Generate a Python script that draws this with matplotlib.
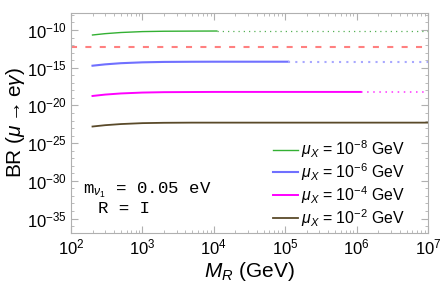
import numpy as np
import matplotlib
matplotlib.use("Agg")
import matplotlib.pyplot as plt
from matplotlib.ticker import LogLocator, NullFormatter

plt.rcParams['font.family'] = ['Liberation Sans', 'DejaVu Sans']
plt.rcParams['mathtext.fontset'] = 'custom'
plt.rcParams['mathtext.rm'] = 'Liberation Sans'
plt.rcParams['mathtext.it'] = 'Liberation Sans:italic'

# M_R in GeV along the solid part of each curve
M_green = [200, 300, 500, 1000, 2000, 5000, 11000]
M_blue = [200, 300, 500, 1000, 2000, 5000, 10000, 110000]
M_mag = [200, 300, 500, 1000, 2000, 5000, 10000, 1150000]
M_brown = [200, 300, 500, 1000, 2000, 5000, 10000, 1e7]

br_green = [2.2e-11, 3.3e-11, 4.7e-11, 6.2e-11, 6.9e-11, 7.2e-11, 7.4e-11]
br_blue = [1.86e-15, 2.8e-15, 4.0e-15, 5.2e-15, 5.9e-15, 6.2e-15, 6.3e-15, 6.3e-15]
br_mag = [1.8e-19, 2.75e-19, 3.9e-19, 5.1e-19, 5.75e-19, 6.0e-19, 6.2e-19, 6.2e-19]
br_brown = [1.6e-23, 2.4e-23, 3.4e-23, 4.5e-23, 5.0e-23, 5.25e-23, 5.25e-23, 5.25e-23]

M_end = 1e7
meg_bound = 5.7e-13

labels = [r'$\mu_X$ = 10$^{-8}$ GeV', r'$\mu_X$ = 10$^{-6}$ GeV',
          r'$\mu_X$ = 10$^{-4}$ GeV', r'$\mu_X$ = 10$^{-2}$ GeV']

fig = plt.figure(figsize=(4.41, 2.84), dpi=100)
ax = fig.add_axes([0.161, 0.18, 0.81, 0.774])

ax.plot([1e2, M_end], [meg_bound, meg_bound], color='#ff8080', lw=1.5,
        dashes=(2.9, 4))

ax.plot(M_green, br_green, color='#33b033', lw=1.0, label=labels[0])
ax.plot([M_green[-1], M_end], [br_green[-1]] * 2, color='#55b055', lw=0.9,
        dashes=(1, 3.2))
ax.plot(M_blue, br_blue, color='#7070ff', lw=1.5, label=labels[1])
ax.plot([M_blue[-1], M_end], [br_blue[-1]] * 2, color='#a8a8ff', lw=1.5,
        dashes=(1, 2.5))
ax.plot(M_mag, br_mag, color='#ff00ff', lw=1.4, label=labels[2])
ax.plot([M_mag[-1], M_end], [br_mag[-1]] * 2, color='#ff30ff', lw=1.1,
        dashes=(1, 3.0))
ax.plot(M_brown, br_brown, color='#5a4a2a', lw=1.3, label=labels[3])

ax.set_xscale('log')
ax.set_yscale('log')
ax.set_xlim(1e2, 1e7)
ax.set_ylim(10 ** -36.9, 10 ** -7.75)

ax.set_yticks([10.0 ** e for e in range(-35, -9, 5)])
ax.set_yticks([10.0 ** e for e in range(-36, -7)], minor=True)
ax.yaxis.set_minor_formatter(NullFormatter())
ax.xaxis.set_minor_locator(LogLocator(base=10, subs=np.arange(2, 10), numticks=20))
ax.xaxis.set_minor_formatter(NullFormatter())

for sp in ax.spines.values():
    sp.set_color('#b0b0b0')
    sp.set_linewidth(0.8)
ax.tick_params(which='both', direction='in', top=True, right=True,
               color='#b0b0b0', labelsize=12, pad=3)
ax.tick_params(which='major', length=5)
ax.tick_params(which='minor', length=2.5)

ax.set_xlabel(r'$M_R$ (GeV)', fontsize=15, labelpad=2)
ax.set_ylabel(r'BR ($\mu\rightarrow$e$\gamma$)', fontsize=15, labelpad=0)

ax.text(0.034, 0.195, r'm$_{\nu_1}$ = 0.05 eV', transform=ax.transAxes,
        family=['Liberation Mono', 'DejaVu Sans Mono'], fontsize=12.5, va='center')
ax.text(0.075, 0.11, 'R = I', transform=ax.transAxes,
        family=['Liberation Mono', 'DejaVu Sans Mono'], fontsize=12.5, va='center')

ax.legend(loc='lower right', bbox_to_anchor=(0.975, -0.045), frameon=False,
          fontsize=11.4, handlelength=1.6, handletextpad=0.2, labelspacing=0.07)

fig.savefig('out.png', dpi=100)
